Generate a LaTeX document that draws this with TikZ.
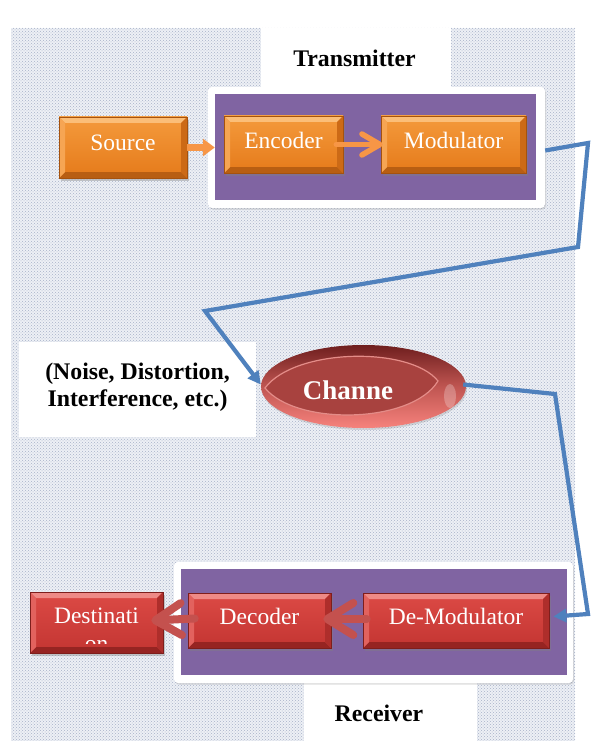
\documentclass[tikz,border=0pt]{standalone}
\usepackage{fontspec}
\setmainfont{Liberation Serif}
\usetikzlibrary{arrows.meta,shadows,patterns,shapes.geometric}
\definecolor{bgc}{HTML}{EDF0F5}
\definecolor{dotc}{HTML}{A8B1C8}
\definecolor{purp}{HTML}{8064A2}
\definecolor{blu}{HTML}{4F81BD}
\definecolor{oarr}{HTML}{F79646}
\definecolor{rarr}{HTML}{C4514E}
% orange box colours
\definecolor{otop}{HTML}{F49A3C}
\definecolor{obot}{HTML}{E57A1A}
\definecolor{oedge}{HTML}{A5520E}
\definecolor{obtop}{HTML}{FBBE78}
\definecolor{obbot}{HTML}{B85E12}
\definecolor{obleft}{HTML}{F6A553}
\definecolor{obright}{HTML}{CC6A16}
% red box colours
\definecolor{rtop}{HTML}{DC4A45}
\definecolor{rbot}{HTML}{C33532}
\definecolor{redge}{HTML}{7E1E1C}
\definecolor{rbtop}{HTML}{EE8A86}
\definecolor{rbbot}{HTML}{962422}
\definecolor{rbleft}{HTML}{E2625E}
\definecolor{rbright}{HTML}{AE2E2B}
% channel
\definecolor{chtop}{HTML}{6E1E1E}
\definecolor{chbot}{HTML}{F6827C}
\definecolor{chin}{HTML}{A8423F}
\definecolor{chline}{HTML}{E48C88}
\newcommand\bvw{6pt}
\tikzset{
  bevel/.style n args={4}{path picture={
    \fill[#1] (path picture bounding box.north west) -- (path picture bounding box.north east)
      -- ([shift={(-\bvw,-\bvw)}]path picture bounding box.north east)
      -- ([shift={(\bvw,-\bvw)}]path picture bounding box.north west) -- cycle;
    \fill[#2] (path picture bounding box.south west) -- (path picture bounding box.south east)
      -- ([shift={(-\bvw,\bvw)}]path picture bounding box.south east)
      -- ([shift={(\bvw,\bvw)}]path picture bounding box.south west) -- cycle;
    \fill[#3] (path picture bounding box.north west) -- (path picture bounding box.south west)
      -- ([shift={(\bvw,\bvw)}]path picture bounding box.south west)
      -- ([shift={(\bvw,-\bvw)}]path picture bounding box.north west) -- cycle;
    \fill[#4] (path picture bounding box.north east) -- (path picture bounding box.south east)
      -- ([shift={(-\bvw,\bvw)}]path picture bounding box.south east)
      -- ([shift={(-\bvw,-\bvw)}]path picture bounding box.north east) -- cycle;
  }},
  boxshadow/.style={drop shadow={shadow xshift=1.5pt,shadow yshift=-3pt,opacity=0.4}},
  orangebox/.style={rectangle, draw=oedge, line width=0.6pt, top color=otop, bottom color=obot,
    boxshadow, bevel={obtop}{obbot}{obleft}{obright}, inner sep=0pt},
  redbox/.style={rectangle, draw=redge, line width=0.6pt, top color=rtop, bottom color=rbot,
    boxshadow, bevel={rbtop}{rbbot}{rbleft}{rbright}, inner sep=0pt},
  boxtext/.style={text=white, font=\fontsize{23.5}{27}\selectfont, inner sep=0pt},
  labeltext/.style={text=black, font=\bfseries\fontsize{23.8}{27}\selectfont, inner sep=0pt, align=center},
  whitepanel/.style={rectangle, fill=white, rounded corners=4pt,
    drop shadow={shadow xshift=1pt,shadow yshift=-1.5pt,opacity=0.25}, inner sep=0pt},
  purplepanel/.style={rectangle, fill=purp, inner sep=0pt},
  labelpanel/.style={rectangle, fill=white, inner sep=0pt},
  bluline/.style={draw=blu, line width=4.2pt, line join=miter},
  bluarrow/.style={bluline, -{Triangle[length=13pt,width=13pt]}},
  oarrowA/.style={draw=oarr, line width=7pt, -{Triangle[length=12pt,width=17pt]}},
  oarrowB/.style={draw=oarr, line width=5.5pt, line cap=round, -{Straight Barb[length=18pt,width=21pt,round]}},
  rarrow/.style={draw=rarr, line width=8pt, line cap=round, -{Straight Barb[length=26pt,width=32pt,round]}},
}
\begin{document}
\begin{tikzpicture}[x=1pt,y=-1pt]
\useasboundingbox (0,0) rectangle (590,741);
\fill[white] (0,0) rectangle (590,741);
% dotted background
\fill[bgc] (11,28) rectangle (575,741);
\fill[pattern=crosshatch dots, pattern color=dotc] (11,28) rectangle (575,741);

% label panels
\node[labelpanel, minimum width=190pt, minimum height=70pt] (txl) at (356,63) {};
\node[labeltext] (txt) at (354.5,58) {Transmitter};
\node[labelpanel, minimum width=173pt, minimum height=58pt] (rxl) at (390.5,712) {};
\node[labeltext] (rxt) at (379,713) {Receiver};
\node[labelpanel, minimum width=237pt, minimum height=95pt] (nsl) at (137.5,389.5) {};
\node[labeltext] (nst) at (137.5,387) {(Noise, Distortion,\\Interference, etc.)};

% transmitter
\node[whitepanel, minimum width=337pt, minimum height=121pt] (txw) at (376.5,147.5) {};
\node[purplepanel, minimum width=321pt, minimum height=106pt] (txp) at (375.5,147) {};
\node[orangebox, minimum width=128pt, minimum height=61pt] (src) at (123,147.5) {};
\node[boxtext] at ([yshift=5pt]src.center) {Source};
\node[orangebox, minimum width=119pt, minimum height=57pt] (enc) at (283.5,144.5) {};
\node[boxtext] at ([yshift=4.5pt]enc.center) {Encoder};
\node[orangebox, minimum width=145pt, minimum height=57pt] (mod) at (453.5,144.5) {};
\node[boxtext] at ([yshift=4.5pt]mod.center) {Modulator};
\draw[oarrowA] (src.east) -- (src.east -| txp.west);
\draw[oarrowB] ([xshift=-7pt]enc.east) -- ([xshift=2pt]mod.west);

% receiver
\node[whitepanel, minimum width=399pt, minimum height=121pt] (rxw) at (373.5,622.5) {};
\node[purplepanel, minimum width=386pt, minimum height=106pt] (rxp) at (374,622) {};
\node[redbox, minimum width=133pt, minimum height=61pt] (dst) at (96.5,622.5) {};
\node[boxtext] at ([yshift=6.5pt]dst.center) {Destinati};
\begin{scope}
  \clip (31,592) rectangle (162,643.5);
  \node[boxtext] at (96.5,646) {on};
\end{scope}
\node[redbox, minimum width=143pt, minimum height=55pt] (dec) at (259.5,620.5) {};
\node[boxtext] at ([yshift=4.5pt]dec.center) {Decoder};
\node[redbox, minimum width=186pt, minimum height=55pt] (dm) at (456,620.5) {};
\node[boxtext] at ([yshift=4.5pt]dm.center) {De-Modulator};
\draw[rarrow] ([shift={(7pt,2pt)}]dec.west) -- ([shift={(-12pt,2pt)}]dst.east);
\draw[rarrow] ([shift={(4pt,1.5pt)}]dm.west) -- ([shift={(-8pt,1.5pt)}]dec.east);

% channel
\node[ellipse, minimum width=205pt, minimum height=83pt, top color=chtop, bottom color=chbot,
      middle color=chin!70!chbot, drop shadow={shadow xshift=1pt,shadow yshift=-2pt,opacity=0.25}] (ch) at (363.5,386.5) {};
\fill[white, opacity=0.25] (450,396) ellipse [x radius=6pt, y radius=12pt];
\path[fill=chin, draw=chline, line width=1.2pt]
  (265,388) .. controls (295,348) and (410,346) .. (438,381)
  .. controls (412,424) and (296,426) .. cycle;
\node[text=white, font=\bfseries\fontsize{27}{30}\selectfont, inner sep=0pt] (cht) at (348,390) {Channe};

% blue connectors
\coordinate (b1) at (588,143);
\coordinate (b2) at (578,247);
\coordinate (b3) at (205,311);
\coordinate (b4) at (555,394);
\coordinate (b5) at (588,614);
\draw[bluarrow] ([yshift=-3pt]txw.east) -- (b1) -- (b2) -- (b3) -- ([yshift=2pt]ch.west);
\draw[bluarrow] ([shift={(-3pt,2pt)}]ch.east) -- (b4) -- (b5) -- ([shift={(4pt,4pt)}]dm.east);
\end{tikzpicture}
\end{document}
